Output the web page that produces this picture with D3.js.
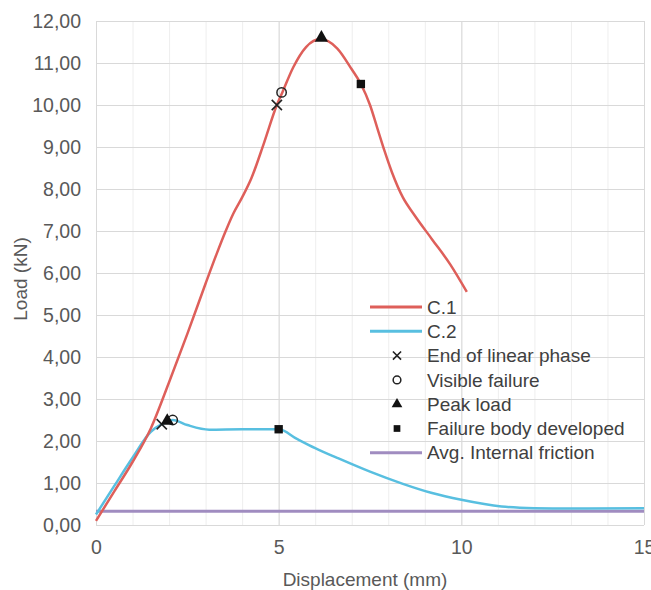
<!DOCTYPE html>
<html>
<head>
<meta charset="utf-8">
<script src="https://cdn.jsdelivr.net/npm/d3@7"></script>
<style>
  body{margin:0;background:#fff;}
  svg text{font-family:"Liberation Sans",Arial,sans-serif;fill:#595959;}
  .legend-label{fill:#404040;}
</style>
</head>
<body>
<div id="chart"></div>
<script>
/* Load vs displacement, two specimens + key events + avg internal friction */
var c1X=[0,0.5,1.0,1.5,2.0,2.5,3.0,3.3,3.55,3.75,4.0,4.25,4.6,4.95,5.1,5.4,5.75,6.15,6.6,7.0,7.25,7.5,7.7,7.9,8.1,8.4,8.7,9.2,9.7,10.15];
var c1Y=[0.1,0.8,1.5,2.3,3.4,4.55,5.75,6.45,7.0,7.4,7.8,8.25,9.1,10.0,10.3,10.9,11.38,11.57,11.35,10.85,10.5,10.0,9.45,8.9,8.4,7.8,7.4,6.8,6.2,5.55];
var c2X=[0,0.5,1.0,1.5,1.8,2.1,2.5,3.1,4.0,5.0,5.5,6.0,6.6,7.5,8.4,9.2,10.0,11.1,12.0,13.0,15.0];
var c2Y=[0.25,0.93,1.6,2.22,2.4,2.5,2.38,2.27,2.28,2.28,2.05,1.83,1.6,1.27,0.98,0.76,0.6,0.44,0.4,0.39,0.4];
var friction=0.33;
// events: [end of linear phase, visible failure, peak load, failure body developed]
var eventNames=["End of linear phase","Visible failure","Peak load","Failure body developed"];
var eventSym=["cross","circle","triangle","square"];
var c1EvX=[4.95,5.08,6.17,7.25], c1EvY=[10.0,10.3,11.6,10.5];
var c2EvX=[1.8,2.1,1.95,5.0],   c2EvY=[2.4,2.5,2.48,2.28];
var xTicks=[0,5,10,15];
var yTicks=[0,1,2,3,4,5,6,7,8,9,10,11,12];

var W=651,H=590, m={top:21,right:7,bottom:65,left:96};
var width=W-m.left-m.right, height=H-m.top-m.bottom;
var svg=d3.select("#chart").append("svg").attr("width",W).attr("height",H);
var g=svg.append("g").attr("transform","translate("+m.left+","+m.top+")");

var x=d3.scaleLinear().domain([0,15]).range([0,width]);
var y=d3.scaleLinear().domain([0,12]).range([height,0]);

// minor vertical grid every 1 mm
g.append("g").call(d3.axisBottom(x).tickValues(d3.range(1,15)).tickSize(height).tickFormat(""))
  .call(function(s){s.select(".domain").remove();s.selectAll("line").attr("stroke","#eeeeee");});
// major grid
g.append("g").call(d3.axisLeft(y).tickValues(yTicks).tickSize(-width).tickFormat(""))
  .call(function(s){s.select(".domain").remove();s.selectAll("line").attr("stroke","#d9d9d9");});
g.append("g").call(d3.axisBottom(x).tickValues(xTicks).tickSize(height).tickFormat(""))
  .call(function(s){s.select(".domain").remove();s.selectAll("line").attr("stroke","#d9d9d9");});

// tick labels
var fmt=function(d){return d3.format(".2f")(d).replace(".",",");};
g.append("g").call(d3.axisLeft(y).tickValues(yTicks).tickSize(0).tickPadding(15).tickFormat(fmt))
  .call(function(s){s.select(".domain").remove();s.selectAll("text").style("font-size","19.5px").attr("fill","#595959");});
g.append("g").attr("transform","translate(0,"+height+")")
  .call(d3.axisBottom(x).tickValues(xTicks).tickSize(0).tickPadding(15).tickFormat(d3.format("d")))
  .call(function(s){s.select(".domain").remove();s.selectAll("text").style("font-size","19.5px").attr("fill","#595959");});

g.append("text").attr("x",width/2-5).attr("y",height+61).attr("text-anchor","middle")
  .style("font-size","19px").text("Displacement (mm)");
g.append("text").attr("transform","rotate(-90)").attr("x",-258).attr("y",-69).attr("text-anchor","middle")
  .style("font-size","19px").text("Load (kN)");

var line=d3.line().x(function(d){return x(d[0]);}).y(function(d){return y(d[1]);}).curve(d3.curveMonotoneX);
var colC1="#de5f5a", colC2="#58bfe0", colFr="#a08cc0";

g.append("path").datum([[0,friction],[15,friction]]).attr("d",line).attr("fill","none").attr("stroke",colFr).attr("stroke-width",3);
g.append("path").datum(d3.zip(c2X,c2Y)).attr("d",line).attr("fill","none").attr("stroke",colC2).attr("stroke-width",2.5);
g.append("path").datum(d3.zip(c1X,c1Y)).attr("d",line).attr("fill","none").attr("stroke",colC1).attr("stroke-width",2.5);

function marker(sel,type,cx,cy,s){
  if(type==="cross"){
    sel.append("path").attr("d",d3.symbol().type(d3.symbolX).size(s)).attr("transform","translate("+cx+","+cy+")")
      .attr("fill","none").attr("stroke","#222").attr("stroke-width",1.6);
  } else if(type==="circle"){
    sel.append("circle").attr("cx",cx).attr("cy",cy).attr("r",Math.sqrt(s)/2+0.5).attr("fill","none").attr("stroke","#222").attr("stroke-width",1.5);
  } else if(type==="triangle"){
    sel.append("path").attr("d",d3.symbol().type(d3.symbolTriangle).size(s*1.1)).attr("transform","translate("+cx+","+cy+")").attr("fill","#111");
  } else {
    sel.append("path").attr("d",d3.symbol().type(d3.symbolSquare).size(s)).attr("transform","translate("+cx+","+cy+")").attr("fill","#111");
  }
}
var mk=g.append("g");
eventSym.forEach(function(t,i){
  marker(mk,t,x(c1EvX[i]),y(c1EvY[i]),70);
  marker(mk,t,x(c2EvX[i]),y(c2EvY[i]),70);
});

// legend
var lg=svg.append("g").attr("transform","translate(370,307)");
var rowH=24.3;
var items=[{t:"line",c:colC1,label:"C.1"},{t:"line",c:colC2,label:"C.2"}]
  .concat(eventNames.map(function(n,i){return {t:eventSym[i],label:n};}))
  .concat([{t:"line",c:colFr,label:"Avg. Internal friction"}]);
items.forEach(function(it,i){
  var yy=i*rowH;
  if(it.t==="line") lg.append("line").attr("x1",0).attr("x2",52).attr("y1",yy).attr("y2",yy).attr("stroke",it.c).attr("stroke-width",3);
  else marker(lg,it.t,27,yy,45);
  lg.append("text").attr("class","legend-label").attr("x",57).attr("y",yy).attr("dy","0.35em")
    .style("font-size","19px").text(it.label);
});
</script>
</body>
</html>
